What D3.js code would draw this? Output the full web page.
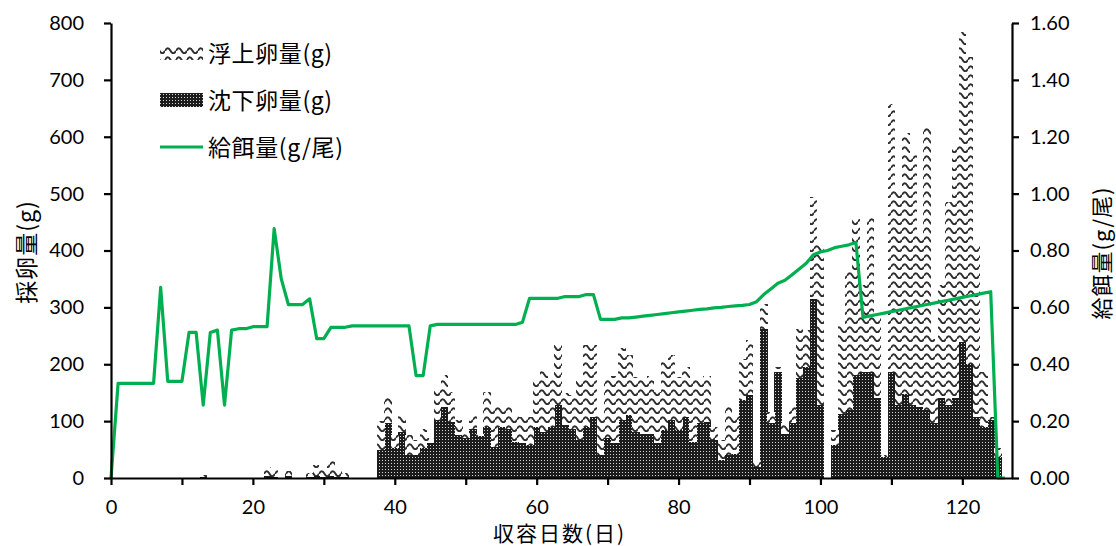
<!DOCTYPE html>
<html><head><meta charset="utf-8">
<script src="https://cdn.jsdelivr.net/npm/d3@7"></script>
<style>
body{margin:0;background:#fff;}
svg{display:block;}
.num{font-family:Lato,"Liberation Sans",sans-serif;font-size:20px;fill:#000;}
.cjk{font-family:"Noto Sans CJK JP",sans-serif;fill:#000;}
</style></head><body>
<svg id="c" width="1116" height="546"></svg>
<script>
// ---- data (day index 0..126) ----
const days = d3.range(0, 127);
const sinking = [
 0,0,0,0,0,0,0,0,0,0,
 0,0,0,2,0,0,0,0,0,0,
 0,0,4,2,0,3,0,0,1,3,
 2,3,2,1,0,0,0,0,50,96,
 52,81,40,40,52,61,102,125,99,75,
 70,87,73,90,55,90,87,64,61,58,
 90,81,90,128,93,87,67,90,108,40,
 70,62,102,110,81,78,78,61,84,102,
 84,108,64,96,99,67,32,40,43,137,
 146,20,262,96,187,78,96,175,195,315,
 128,0,58,113,119,181,187,187,140,37,
 187,128,148,128,125,119,96,140,128,140,
 239,201,108,90,102,37,0];
const floating = [
 0,0,0,0,0,0,0,0,0,0,
 0,0,0,4,0,0,0,0,0,0,
 0,0,16,12,0,9,0,0,8,20,
 12,28,16,8,0,0,0,0,50,47,
 23,29,35,27,35,9,58,56,52,27,
 8,26,5,61,73,38,38,46,47,50,
 85,109,82,105,56,59,105,143,125,70,
 105,118,127,106,97,97,102,90,123,114,
 94,87,111,76,81,23,35,85,70,73,
 96,10,44,20,8,18,29,87,65,179,
 284,0,26,158,246,275,153,271,149,3,
 470,377,459,444,304,497,149,199,357,447,
 546,539,301,97,6,15,0];
const feed = [
 0,0.333,0.333,0.333,0.333,0.333,0.333,0.67,0.34,0.34,
 0.34,0.512,0.512,0.256,0.512,0.52,0.256,0.52,0.525,0.525,
 0.532,0.532,0.532,0.877,0.70,0.61,0.61,0.61,0.63,0.49,
 0.49,0.53,0.53,0.53,0.535,0.535,0.535,0.535,0.535,0.535,
 0.535,0.535,0.535,0.36,0.36,0.535,0.54,0.54,0.54,0.54,
 0.54,0.54,0.54,0.54,0.54,0.54,0.54,0.54,0.548,0.632,
 0.632,0.632,0.632,0.632,0.638,0.638,0.638,0.645,0.645,0.558,
 0.558,0.558,0.563,0.563,0.566,0.569,0.572,0.575,0.578,0.581,
 0.584,0.587,0.59,0.593,0.595,0.598,0.6,0.603,0.605,0.607,
 0.61,0.62,0.645,0.665,0.685,0.695,0.715,0.735,0.755,0.785,
 0.795,0.80,0.81,0.815,0.82,0.828,0.565,0.57,0.575,0.58,
 0.585,0.59,0.595,0.6,0.605,0.61,0.615,0.62,0.625,0.63,
 0.635,0.64,0.645,0.65,0.655,0,0];
const leftTicks = [0,100,200,300,400,500,600,700,800];
const rightTicks = [0,0.2,0.4,0.6,0.8,1.0,1.2,1.4,1.6];
const xTicks = [0,10,20,30,40,50,60,70,80,90,100,110,120];
const seriesNames = ["浮上卵量(g)", "沈下卵量(g)", "給餌量(g/尾)"];
const xTitle = "収容日数(日)";
const yLeftTitle = "採卵量(g)";
const yRightTitle = "給餌量(g/尾)";

// ---- layout ----
const X0 = 111, X1 = 1012, Y0 = 478, Y1 = 23;
const x = d3.scaleLinear().domain([0, 127]).range([X0, X1]);
const yL = d3.scaleLinear().domain([0, 800]).range([Y0, Y1]);
const yR = d3.scaleLinear().domain([0, 1.6]).range([Y0, Y1]);
const bw = x(1) - x(0);
const GREEN = "#00b050";

const svg = d3.select("#c");
const defs = svg.append("defs");
const pw = defs.append("pattern").attr("id","wave").attr("patternUnits","userSpaceOnUse")
  .attr("width",11).attr("height",9);
pw.append("rect").attr("width",11).attr("height",9).attr("fill","#fff");
pw.append("path").attr("d","M0,5.8 Q2.75,0.8 5.5,5.8 T11,5.8").attr("fill","none")
  .attr("stroke","#2e2e2e").attr("stroke-width",1.9);
const pd = defs.append("pattern").attr("id","dots").attr("patternUnits","userSpaceOnUse")
  .attr("width",3).attr("height",3);
pd.append("rect").attr("width",3).attr("height",3).attr("fill","#1c1c1c");
pd.append("rect").attr("x",1).attr("y",1).attr("width",1).attr("height",1).attr("fill","#d8d8d8");

const data = days.map((d,i)=>({d, s:sinking[i], f:floating[i], g:feed[i]}));

// bars
const gb = svg.append("g").attr("shape-rendering","crispEdges");
gb.selectAll("rect.s").data(data.filter(o=>o.s>0)).join("rect").attr("class","s")
  .attr("x",o=>x(o.d)-bw/2).attr("width",bw+0.4)
  .attr("y",o=>yL(o.s)).attr("height",o=>Y0-yL(o.s)).attr("fill","url(#dots)");
gb.selectAll("rect.f").data(data.filter(o=>o.f>0)).join("rect").attr("class","f")
  .attr("x",o=>x(o.d)-bw/2).attr("width",bw+0.4)
  .attr("y",o=>yL(o.s+o.f)).attr("height",o=>yL(o.s)-yL(o.s+o.f)).attr("fill","url(#wave)");

// line
svg.append("path").datum(data).attr("fill","none").attr("stroke",GREEN)
  .attr("stroke-width",3.2).attr("stroke-linejoin","round")
  .attr("d", d3.line().x(o=>x(o.d)).y(o=>yR(o.g)));

// axes
function styleAxis(g){
  g.selectAll("path.domain").attr("stroke","#000").attr("stroke-width",2.2);
  g.selectAll(".tick line").attr("stroke","#000").attr("stroke-width",2.2);
  g.selectAll(".tick text").attr("class","num").attr("font-size",null).attr("font-family",null).attr("fill","#000");
}
const ax = svg.append("g").attr("transform",`translate(0,${Y0})`)
  .call(d3.axisBottom(x).tickValues(xTicks).tickSize(7).tickSizeOuter(0).tickPadding(15)
    .tickFormat(d=> d%20===0 ? d : ""));
styleAxis(ax);
const al = svg.append("g").attr("transform",`translate(${X0},0)`)
  .call(d3.axisLeft(yL).tickValues(leftTicks).tickSize(7).tickSizeOuter(0).tickPadding(20)
    .tickFormat(d3.format("d")));
styleAxis(al);
const ar = svg.append("g").attr("transform",`translate(${X1},0)`)
  .call(d3.axisRight(yR).tickValues(rightTicks).tickSize(7).tickSizeOuter(0).tickPadding(11)
    .tickFormat(d3.format(".2f")));
styleAxis(ar);

// legend
const lg = svg.append("g");
lg.append("rect").attr("x",160).attr("y",45).attr("width",43).attr("height",15).attr("fill","url(#wave)");
lg.append("rect").attr("x",160).attr("y",93).attr("width",43).attr("height",14).attr("fill","url(#dots)");
lg.append("line").attr("x1",160).attr("x2",203).attr("y1",147).attr("y2",147)
  .attr("stroke",GREEN).attr("stroke-width",3.2);
[52,99,146].forEach((yy,i)=>{
  lg.append("text").attr("class","cjk").attr("x",208).attr("y",yy)
    .attr("dominant-baseline","central").attr("font-size",23).attr("letter-spacing",0.6).text(seriesNames[i]);
});

// titles
svg.append("text").attr("class","cjk").attr("x",(X0+X1)/2 - 2).attr("y",532)
  .attr("text-anchor","middle").attr("dominant-baseline","central").attr("font-size",21)
  .attr("letter-spacing",2).text(xTitle);
svg.append("text").attr("class","cjk").attr("transform","translate(25,252) rotate(-90)")
  .attr("text-anchor","middle").attr("dominant-baseline","central").attr("font-size",23)
  .attr("letter-spacing",1).text(yLeftTitle);
svg.append("text").attr("class","cjk").attr("transform","translate(1100,253) rotate(-90)")
  .attr("text-anchor","middle").attr("dominant-baseline","central").attr("font-size",22)
  .attr("letter-spacing",1).text(yRightTitle);
</script>
</body></html>
